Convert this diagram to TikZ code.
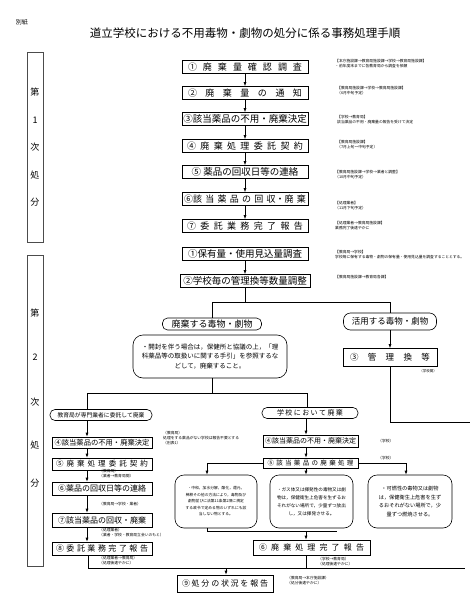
\documentclass[tikz,border=0pt]{standalone}
\usepackage{fontspec}
\setmainfont{Noto Sans CJK JP}
\usetikzlibrary{arrows.meta}
\newcommand\fz[2]{\fontsize{#1}{#2}\selectfont}
\newcommand\spr[2]{\makebox[#1][s]{#2}}
\begin{document}
\begin{tikzpicture}[x=1pt,y=-1pt,
  bx/.style={draw, line width=0.6pt, inner sep=0pt, minimum height=13pt},
  pil/.style={draw, line width=0.6pt, inner sep=0pt, rounded corners=5pt},
  rbx/.style={draw, line width=0.6pt, rounded corners=9pt, inner sep=0pt, align=center},
  nt/.style={inner sep=0pt, align=left, font=\fz{3.8}{4.8}},
  arr/.style={-{Latex[length=4pt,width=3pt]}, line width=0.6pt},
  ln/.style={line width=0.6pt},
  sidebox/.style={draw, line width=0.7pt, draw=black!70, minimum width=16pt, inner sep=0pt},
  sidech/.style={inner sep=0pt, font=\fz{9}{10}}]
\useasboundingbox (0,0) rectangle (470,594);

% title
\node[inner sep=0pt, font=\fz{6}{7}] (bessi) at (22,22) {別紙};
\node[inner sep=0pt, font=\fz{11.5}{13}] (title) at (245,33) {道立学校における不用毒物・劇物の処分に係る事務処理手順};

% side brackets
\node[sidebox, minimum height=190pt] (s1) at (35,147) {};
\node[sidech] (s1a) at (35,92) {第};
\node[sidech] (s1b) at (35,120) {1};
\node[sidech] (s1c) at (35,147) {次};
\node[sidech] (s1d) at (35,175) {処};
\node[sidech] (s1e) at (35,202) {分};
\node[sidebox, minimum height=311pt] (s2) at (35,410.5) {};
\node[sidech] (s2a) at (35,313) {第};
\node[sidech] (s2b) at (35,357) {\textit{2}};
\node[sidech] (s2c) at (35,402) {次};
\node[sidech] (s2d) at (35,445) {処};
\node[sidech] (s2e) at (35,483) {分};

% first phase column
\node[bx, minimum width=126pt, font=\fz{9}{10}] (b1) at (245,67) {\spr{114pt}{① 廃 棄 量 確 認 調 査}};
\node[bx, minimum width=126pt, font=\fz{9}{10}] (b2) at (245,93) {\spr{114pt}{② 廃 棄 量 の 通 知}};
\node[bx, minimum width=126pt, font=\fz{9.5}{10}] (b3) at (245,119) {③該当薬品の不用・廃棄決定};
\node[bx, minimum width=126pt, font=\fz{9}{10}] (b4) at (245,146) {\spr{116pt}{④ 廃 棄 処 理 委 託 契 約}};
\node[bx, minimum width=126pt, font=\fz{9.5}{10}] (b5) at (245,172) {⑤ 薬品の回収日等の連絡};
\node[bx, minimum width=126pt, font=\fz{9}{10}] (b6) at (245,199) {\spr{122pt}{⑥該 当 薬 品 の 回 収・廃 棄}};
\node[bx, minimum width=126pt, font=\fz{9}{10}] (b7) at (245,226) {\spr{116pt}{⑦ 委 託 業 務 完 了 報 告}};
\node[bx, minimum width=126pt, font=\fz{9.5}{10}] (c1) at (245,254) {①保有量・使用見込量調査};
\node[bx, minimum width=130pt, font=\fz{9.5}{10}] (c2) at (245,281) {②学校毎の管理換等数量調整};
\draw[arr] (b1) -- (b2);
\draw[arr] (b2) -- (b3);
\draw[arr] (b3) -- (b4);
\draw[arr] (b4) -- (b5);
\draw[arr] (b5) -- (b6);
\draw[arr] (b6) -- (b7);
\draw[arr] (c1) -- (c2);

% notes first phase
\node[nt, anchor=north west] (n1) at (335,59) {【本庁施設課→教育局施設課→学校→教育局施設課】\\・前年度末までに各教育局から調査を依頼};
\node[nt, anchor=north west] (n2) at (337,86) {【教育局施設課→学校→教育局施設課】\\（6月中旬予定）};
\node[nt, anchor=north west] (n3) at (337,115) {【学校→教育局】\\該当薬品の不用・廃棄量の報告を受けて決定};
\node[nt, anchor=north west] (n4) at (337,140) {【教育局施設課】\\（7月上旬〜中旬予定）};
\node[nt, anchor=north west] (n5) at (335,170) {【教育局施設課→学校→業者と調整】\\（10月中旬予定）};
\node[nt, anchor=north west] (n6) at (335,201) {【処理業者】\\（11月下旬予定）};
\node[nt, anchor=north west] (n7) at (335,221) {【処理業者→教育局施設課】\\業務完了後速やかに};
\node[nt, anchor=north west] (n8) at (335,250) {【教育局→学校】\\学校毎に保有する毒物・劇物の保有量・使用見込量を調査することとする。};
\node[nt, anchor=north west] (n9) at (335,275) {【教育局施設課→教育局各課】};

% split
\coordinate (hL) at (212,302);
\coordinate (hR) at (390,302);
\draw[ln] (c2.south) -- (c2.south |- hL);
\draw[ln] (hL) -- (hR);
\node[pil, minimum width=99pt, minimum height=12pt, font=\fz{9}{10}] (p1) at (212,324) {廃棄する毒物・劇物};
\node[pil, minimum width=93pt, minimum height=17pt, rounded corners=7pt, font=\fz{8.5}{10}] (p2) at (390,321.5) {活用する毒物・劇物};
\draw[ln] (hL) -- (p1);
\draw[ln] (hR) -- (p2);
\node[bx, minimum width=94pt, minimum height=18pt, font=\fz{8.5}{10}] (m3) at (390,357.5) {\spr{80pt}{③ 管 理 換 等}};
\draw[arr] (p2) -- (m3);
\node[inner sep=0pt, font=\fz{3.5}{4}, anchor=north east] (m3n) at (437,369) {（学校間）};
\coordinate (mA) at (390,422);
\coordinate (mB) at (470,422);
\draw[ln] (m3.south) -- (mA) -- (mB);

\node[rbx, minimum width=154pt, minimum height=43pt, rounded corners=10pt, font=\fz{6.5}{9.5}] (N1) at (210,356.5) {・開封を伴う場合は，保健所と協議の上，「理\\科薬品等の取扱いに関する手引」を参照するな\\どして，廃棄すること。};

\coordinate (vN) at (212,393);
\coordinate (vL) at (87,393);
\coordinate (vR) at (307,393);
\draw[ln] (N1.south -| vN) -- (vN);
\draw[ln] (vL) -- (vR);

% left column
\node[pil, minimum width=102pt, minimum height=11pt, font=\fz{5.8}{7}] (pL) at (101,415) {教育局が専門業者に委託して廃棄};
\node[pil, minimum width=96pt, minimum height=11pt, font=\fz{7}{8}] (pR) at (310,413) {\spr{66pt}{学 校 に お い て 廃 棄}};
\draw[ln] (vL) -- (pL.north -| vL);
\draw[ln] (vR) -- (pR.north -| vR);

\coordinate (lx) at (87,0);
\node[bx, minimum width=100pt, minimum height=11pt, font=\fz{7.3}{8}] (L4) at (102,442.5) {④該当薬品の不用・廃棄決定};
\node[bx, minimum width=100pt, minimum height=12pt, font=\fz{7.5}{8}] (L5) at (102,464) {\spr{92pt}{⑤ 廃 棄 処 理 委 託 契 約}};
\node[bx, minimum width=100pt, minimum height=13pt, font=\fz{8}{9}] (L6) at (102,488.5) {⑥薬品の回収日等の連絡};
\node[bx, minimum width=100pt, minimum height=14pt, font=\fz{8}{9}] (L7) at (102,520) {⑦該当薬品の回収・廃棄};
\node[bx, minimum width=100pt, minimum height=13pt, font=\fz{8}{9}] (L8) at (102,548.5) {\spr{92pt}{⑧ 委 託 業 務 完 了 報 告}};
\draw[arr] (pL.south -| lx) -- (L4.north -| lx);
\draw[arr] (L4.south -| lx) -- (L5.north -| lx);
\draw[arr] (L5.south -| lx) -- (L6.north -| lx);
\draw[arr] (L6.south -| lx) -- (L7.north -| lx);
\draw[arr] (L7.south -| lx) -- (L8.north -| lx);

\node[nt, anchor=north west] (nl4) at (163,431) {（教育局）\\処理をする薬品がない学校は報告不要とする\\（別表1）};
\node[nt, anchor=north west] (nl5) at (99,469.5) {（教育局）\\（業者→教育局間）};
\node[nt, anchor=north west] (nl6) at (99,502) {（教育局→学校・業者）};
\node[nt, anchor=north west] (nl7) at (99,528.5) {（処理業者）\\（業者・学校・教育局立会いのもと）};
\node[nt, anchor=north west] (nl8) at (99,556.5) {（処理業者→教育局）\\（処理後速やかに）};

% right column
\coordinate (rx) at (306,0);
\node[bx, minimum width=95pt, minimum height=12pt, font=\fz{7}{8}] (R4) at (310.5,441) {④該当薬品の不用・廃棄決定};
\node[bx, minimum width=95pt, minimum height=10pt, font=\fz{6.5}{7}] (R5) at (310.5,463) {\spr{86pt}{⑤ 該 当 薬 品 の 廃 棄 処 理}};
\draw[arr] (pR.south -| rx) -- (R4.north -| rx);
\draw[arr] (R4.south -| rx) -- (R5.north -| rx);
\node[nt, anchor=west] (nr4) at (378,441) {（学校）};
\node[nt, anchor=west] (nr5) at (378,458) {（学校）};

\node[rbx, minimum width=82pt, minimum height=53pt, font=\fz{3.8}{6.5}] (A) at (216,501.5) {・中和，加水分解，酸化，還元，\\稀釈その他の方法により，毒物及び\\劇物並びに法第11条第2項に規定\\する政令で定める物のいずれにも該\\当しない物とする。};
\node[rbx, minimum width=83pt, minimum height=53pt, font=\fz{4.6}{8}] (B) at (311.5,501.5) {・ガス体又は揮発性の毒物又は劇\\物は，保健衛生上危害を生ずるお\\それがない場所で，少量ずつ放出\\し，又は揮発させる。};
\node[rbx, minimum width=84pt, minimum height=53pt, font=\fz{5.2}{8.5}] (C) at (410,501.5) {・可燃性の毒物又は劇物\\は，保健衛生上危害を生ず\\るおそれがない場所で，少\\量ずつ燃焼させる。};
\coordinate (aX) at (207,463);
\coordinate (cX) at (406,463);
\draw[ln] (R5.west) -- (aX);
\draw[arr] (aX) -- (A.north -| aX);
\draw[ln] (R5.east) -- (cX);
\draw[arr] (cX) -- (C.north -| cX);
\draw[arr] (R5.south -| rx) -- (B.north -| rx);

\coordinate (jA) at (207,531);
\coordinate (jE) at (337,531);
\coordinate (jM) at (306,531);
\draw[ln] (A.south -| jA) -- (jA) -- (jE);
\node[bx, minimum width=117pt, minimum height=15pt, font=\fz{8}{9}] (R6) at (311.5,547.5) {\spr{105pt}{⑥ 廃 棄 処 理 完 了 報 告}};
\draw[arr] (jM) -- (R6.north -| jM);
\node[nt, anchor=north west] (nr6) at (318,557) {（学校→教育局）\\（処理後速やかに）};

% bottom
\coordinate (bL) at (88,568);
\coordinate (bR) at (465,568);
\coordinate (bM) at (306,568);
\coordinate (b9) at (226,568);
\draw[ln] (L8.south -| bL) -- (bL) -- (bR);
\draw[ln] (R6.south -| bM) -- (bM);
\node[bx, minimum width=96pt, minimum height=17pt, font=\fz{8}{9}] (F9) at (225,583.5) {\spr{86pt}{⑨ 処 分 の 状 況 を 報 告}};
\draw[arr] (b9) -- (F9.north -| b9);
\node[nt, anchor=north west] (n9b) at (287,576) {（教育局→本庁施設課）\\（処分後速やかに）};
\end{tikzpicture}
\end{document}
